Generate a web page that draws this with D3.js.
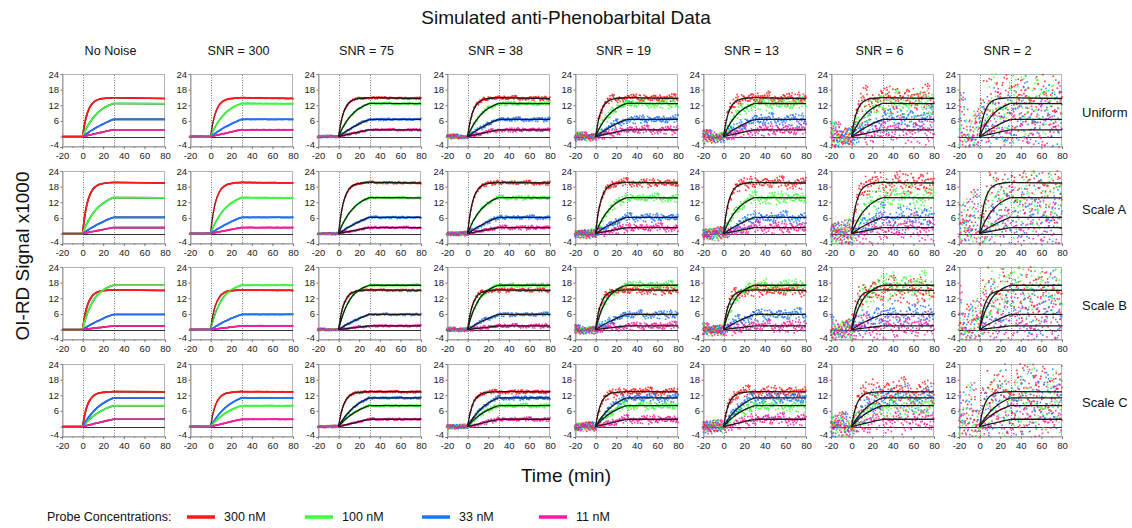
<!DOCTYPE html>
<html><head><meta charset="utf-8">
<script src="https://cdn.jsdelivr.net/npm/d3@7"></script>
<style>
body{margin:0;background:#fff}
svg text{font-family:Arial,"Liberation Sans",sans-serif}
</style>
</head><body>
<svg id="chart" width="1132" height="528"></svg>
<script>
// ---- data ----
const columnTitles = ["No Noise","SNR = 300","SNR = 75","SNR = 38","SNR = 19","SNR = 13","SNR = 6","SNR = 2"];
const noiseSD = [0, 0.05, 0.2, 0.39, 0.79, 1.15, 2.5, 7.5];
const rowTitles = ["Uniform","Scale A","Scale B","Scale C"];
const concentrations = ["300 nM","100 nM","33 nM","11 nM"];
const seriesColors = ["#ff1a1a","#3dff3d","#1e74ff","#ff1aa3"];
const curveTimes = [0,2,4,6,8,10,13,16,20,25,30,80];
const yTicks = [-4,0,6,12,18,24];
const xTicks = [-20,0,20,40,60,80];
const xMinorTicks = [-10,10,30,50,70];

// Uniform
const uniform300 = [0,4.9,8.2,10.4,11.9,12.9,13.8,14.3,14.6,14.8,14.9,14.6];
const uniform100 = [0,1.8,3.4,4.8,6.0,7.1,8.4,9.6,10.8,11.9,12.7,12.6];
const uniform33  = [0,0.57,1.1,1.65,2.2,2.65,3.4,4.0,4.85,5.8,6.6,6.6];
const uniform11  = [0,0.18,0.36,0.54,0.71,0.89,1.15,1.4,1.76,2.2,2.6,2.6];
// Scale A
const scaleA300 = [0,6.5,10.8,13.7,15.6,17.0,18.1,18.8,19.2,19.5,19.6,19.4];
const scaleA100 = [0,1.96,3.7,5.2,6.5,7.7,9.2,10.4,11.7,12.9,13.8,13.7];
const scaleA33  = [0,0.54,1.03,1.55,2.07,2.5,3.2,3.76,4.56,5.45,6.2,6.2];
const scaleA11  = [0,0.16,0.32,0.48,0.63,0.79,1.02,1.24,1.56,1.95,2.3,2.3];
// Scale B
const scaleB300 = [0,5.0,8.4,10.6,12.1,13.2,14.1,14.6,14.9,15.1,15.2,15.0];
const scaleB100 = [0,3.0,5.5,7.6,9.3,10.8,12.6,13.9,15.2,16.3,17.0,17.0];
const scaleB33  = [0,0.5,0.97,1.45,1.94,2.33,3.0,3.5,4.27,5.1,5.8,5.8];
const scaleB11  = [0,0.1,0.2,0.29,0.38,0.48,0.62,0.75,0.95,1.17,1.4,1.4];
// Scale C
const scaleC300 = [0,4.4,7.4,9.4,10.7,11.6,12.4,12.9,13.1,13.3,13.4,13.3];
const scaleC100 = [0,0.93,1.78,2.56,3.26,3.9,4.78,5.54,6.4,7.3,8.0,8.0];
const scaleC33  = [0,1.35,2.57,3.67,4.67,5.57,6.77,7.8,8.95,10.1,11.0,11.0];
const scaleC11  = [0,0.19,0.39,0.58,0.76,0.96,1.24,1.5,1.9,2.37,2.8,2.8];

// hand-typed measurement-noise offsets (unit spread)
const noiseOffsets = [
0.31,-1.12,0.58,1.47,-0.23,-0.86,0.04,1.92,-1.55,0.67,
-0.41,0.12,-2.08,0.95,0.38,-0.69,1.21,-0.02,-1.34,0.49,
0.83,-0.57,-0.15,2.24,-0.98,0.26,-1.71,0.71,0.09,-0.33,
1.05,-1.27,0.44,-0.08,1.63,-0.61,-0.19,0.87,-1.88,0.22,
0.56,-0.74,1.34,-0.45,0.03,-1.06,0.79,2.01,-0.28,-0.52,
0.14,1.18,-1.43,0.61,-0.11,0.93,-0.81,0.35,-2.31,0.47,
1.52,-0.36,-0.95,0.18,0.74,-1.19,0.06,1.29,-0.64,-0.07,
-1.62,0.89,0.27,-0.49,1.76,-0.17,-0.88,0.53,0.01,-1.36,
1.09,-0.26,0.65,-1.01,0.42,1.41,-0.72,-0.13,0.98,-1.58,
0.19,-0.43,2.12,-0.79,0.33,-0.05,-1.23,0.81,0.58,-0.92,
1.27,-1.81,0.11,0.68,-0.31,-0.59,1.58,-0.14,0.39,-1.14,
0.76,0.24,-0.67,1.86,-1.47,0.08,-0.21,0.92,-0.84,0.29,
-0.39,1.13,-2.04,0.51,0.16,-0.77,1.39];

const rowCurves = [
  [uniform300, uniform100, uniform33, uniform11],
  [scaleA300, scaleA100, scaleA33, scaleA11],
  [scaleB300, scaleB100, scaleB33, scaleB11],
  [scaleC300, scaleC100, scaleC33, scaleC11]
];

// ---- layout ----
const colX0 = 62, colStep = 128.2, plotW = 103;
const rowY0 = 74, rowStep = 96.5, plotH = 73;
const tickFont = "DejaVu Sans";
const fmt = d => String(d);

const svg = d3.select("#chart");

svg.append("text").attr("x", 566).attr("y", 24).attr("text-anchor","middle")
  .attr("font-size", 19).attr("fill","#111").text("Simulated anti-Phenobarbital Data");
svg.append("text").attr("transform","translate(29,256) rotate(-90)").attr("text-anchor","middle")
  .attr("font-size", 19).attr("fill","#111").text("OI-RD Signal x1000");
svg.append("text").attr("x", 566).attr("y", 482).attr("text-anchor","middle")
  .attr("font-size", 19).attr("fill","#111").text("Time (min)");

function valueAt(t, vals) {
  if (t <= 0) return 0;
  for (let i = 1; i < curveTimes.length; i++) {
    if (t <= curveTimes[i]) {
      const t0 = curveTimes[i-1], t1 = curveTimes[i];
      return vals[i-1] + (vals[i]-vals[i-1]) * (t - t0) / (t1 - t0);
    }
  }
  return vals[vals.length-1];
}

rowTitles.forEach((rowName, r) => {
  const y0 = Math.round(rowY0 + r*rowStep);
  svg.append("text").attr("x", 1082).attr("y", y0 + plotH/2 + 6)
    .attr("font-size", 13).attr("fill","#111").text(rowName);

  columnTitles.forEach((colName, c) => {
    const x0 = Math.round(colX0 + c*colStep);
    const x = d3.scaleLinear().domain([-20,80]).range([x0, x0+plotW]);
    const y = d3.scaleLinear().domain([-4,24]).range([y0+plotH, y0]);
    const g = svg.append("g");

    if (r === 0) {
      svg.append("text").attr("x", x0 + plotW/2 - 3).attr("y", 54.5).attr("text-anchor","middle")
        .attr("font-size", 12.6).attr("fill","#111").text(colName);
    }

    // frame
    g.append("rect").attr("x", x0+0.5).attr("y", y0+0.5).attr("width", plotW-1).attr("height", plotH-1)
      .attr("fill","#fff").attr("stroke","#b4b4b4").attr("stroke-width",1);

    // axes
    const ya = d3.axisLeft(y).tickValues(yTicks).tickSize(2).tickPadding(1.5)
      .tickFormat(d => d === 0 ? "" : fmt(d));
    const yg = g.append("g").attr("transform",`translate(${x0+0.5},0)`).call(ya);
    yg.select(".domain").attr("stroke","#999");
    yg.selectAll(".tick line").attr("stroke","#777");
    yg.selectAll("text").attr("font-family",tickFont).attr("font-size",9.5).attr("fill","#222");
    yg.selectAll(".tick").filter(d => d === -4).select("text").attr("dy","0.1em");

    const xa = d3.axisBottom(x).tickValues(xTicks).tickSize(2.5).tickPadding(3).tickFormat(fmt);
    const xg = g.append("g").attr("transform",`translate(0,${y0+plotH-0.5})`).call(xa);
    xg.select(".domain").attr("stroke","#999");
    xg.selectAll(".tick line").attr("stroke","#777");
    xg.selectAll("text").attr("font-family",tickFont).attr("font-size",9.5).attr("fill","#222");
    const xm = d3.axisBottom(x).tickValues(xMinorTicks).tickSize(1.5).tickFormat("");
    const xmg = g.append("g").attr("transform",`translate(0,${y0+plotH-0.5})`).call(xm);
    xmg.select(".domain").remove();
    xmg.selectAll(".tick line").attr("stroke","#888");

    // dotted phase lines
    [0,30].forEach(t => {
      g.append("line").attr("x1", Math.round(x(t))+0.5).attr("x2", Math.round(x(t))+0.5)
        .attr("y1", y0+1).attr("y2", y0+plotH-1)
        .attr("stroke","#777").attr("stroke-width",1).attr("stroke-dasharray","1,1.5");
    });

    // zero line
    g.append("line").attr("x1", x(-20)).attr("x2", x(80))
      .attr("y1", Math.round(y(0))+0.5).attr("y2", Math.round(y(0))+0.5)
      .attr("stroke","#333").attr("stroke-width",1);

    const curves = rowCurves[r];
    const line = d3.line().x(d => x(d[0])).y(d => y(d[1])).curve(d3.curveMonotoneX);
    const assoc = vals => curveTimes.slice(0, 11).map((t,i) => [t, vals[i]]);
    const dissoc = vals => [[30, vals[10]], [80, vals[11]]];

    function drawFits(color, width) {
      curves.forEach(vals => {
        g.append("path").attr("d", line(assoc(vals))).attr("fill","none")
          .attr("stroke", color).attr("stroke-width", width);
        g.append("path").attr("d", line(dissoc(vals))).attr("fill","none")
          .attr("stroke", color).attr("stroke-width", width);
      });
    }

    if (c === 0) {
      drawFits("#111", 1.6);
      curves.forEach((vals, s) => {
        const col = seriesColors[s];
        g.append("path").attr("d", line(assoc(vals))).attr("fill","none")
          .attr("stroke", col).attr("stroke-width", 1.7);
        g.append("path").attr("d", line(dissoc(vals))).attr("fill","none")
          .attr("stroke", col).attr("stroke-width", 1.7);
      });
      curves.slice().reverse().forEach((vals, k) => {
        g.append("path").attr("d", line([[-20,0],[0,0]])).attr("fill","none")
          .attr("stroke", seriesColors[3-k]).attr("stroke-width", 1.7);
      });
    } else {
      if (c === 1) drawFits("#111", 1.2);
      const pts = [];
      const N = noiseOffsets.length;
      for (let k = 0; k <= 200; k++) {
        const t = -20 + k*0.5;
        for (let s = 0; s < 4; s++) {
          const idx = (k*37 + s*61 + c*29 + r*17 + Math.floor(k/N)*5) % N;
          const v = valueAt(t, curves[s]) + noiseSD[c] * noiseOffsets[idx];
          if (v >= -4 && v <= 24) pts.push({t, v, s});
        }
      }
      g.append("g").selectAll("rect").data(pts).join("rect")
        .attr("x", d => x(d.t) - 0.8).attr("y", d => y(d.v) - 0.8)
        .attr("width", 1.6).attr("height", 1.6)
        .attr("fill", d => seriesColors[d.s]).attr("opacity", 0.85);
      if (c >= 2) drawFits("#1a1a1a", 1.3);
    }
  });
});

// legend
svg.append("text").attr("x", 47).attr("y", 521).attr("font-size", 12.5).attr("fill","#111")
  .text("Probe Concentrations:");
const legendX = [187, 305, 422, 539];
concentrations.forEach((name, i) => {
  svg.append("line").attr("x1", legendX[i]).attr("x2", legendX[i] + 28)
    .attr("y1", 517).attr("y2", 517).attr("stroke", seriesColors[i]).attr("stroke-width", 3.5);
  svg.append("text").attr("x", legendX[i] + 37).attr("y", 521).attr("font-size", 12.5)
    .attr("fill","#111").text(name);
});
</script>
</body></html>
